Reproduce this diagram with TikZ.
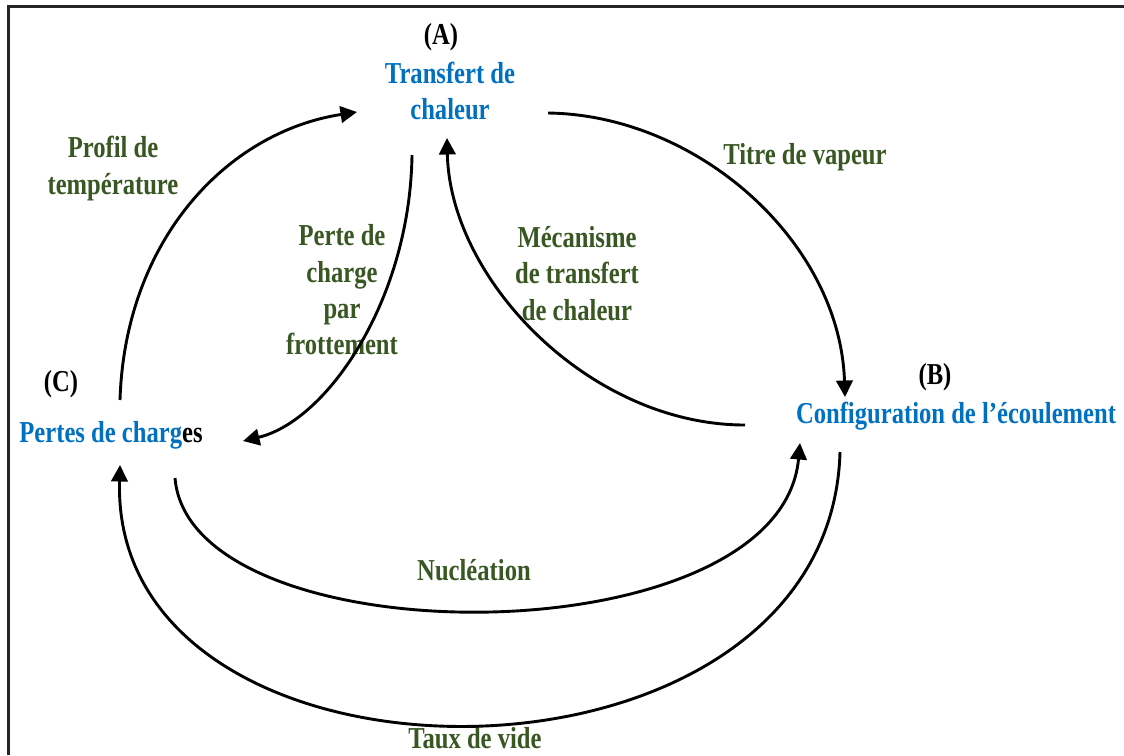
\documentclass[tikz,border=0pt]{standalone}
\usepackage{fontspec}
\setmainfont{Liberation Serif}[FakeStretch=0.81]
\usetikzlibrary{arrows.meta}
\definecolor{NodeBlue}{HTML}{0070C0}
\definecolor{LabelGreen}{HTML}{385723}

\begin{document}
\begin{tikzpicture}[x=0.02cm, y=-0.02cm,
    txt/.style={font=\bfseries\fontsize{17.3}{20.7}\selectfont, inner sep=0pt, align=center},
    pole/.style={txt, text=NodeBlue},
    lbl/.style={txt, text=LabelGreen},
    flow/.style={line width=0.058cm, -{Triangle[length=0.33cm, width=0.33cm]}}]
  \useasboundingbox (0,0) rectangle (1124,755);
  \draw[line width=0.06cm, black!85] (8.5,755) -- (8.5,6) -- (1124,6);
  % Les trois pôles
  \node[txt] (tagA) at (441,37) {(A)};
  \node[pole] (tA) at (450,91) {Transfert de\\chaleur};
  \node[txt] (tagB) at (935,377) {(B)};
  \node[pole] (tB) at (956,416) {Configuration de l’écoulement};
  \node[txt] (tagC) at (61,384) {(C)};
  \node[txt] (tC) at (111,435) {\textcolor{NodeBlue}{Pertes de charg}es};
  % Les liens
  \node[lbl] (lProfil) at (113,168.5) {Profil de\\température};
  \node[lbl] (lTitre) at (805,157) {Titre de vapeur};
  \node[lbl] (lFrott) at (342,290) {Perte de\\charge\\par\\frottement};
  \node[lbl] (lMeca) at (577,273.5) {Mécanisme\\de transfert\\de chaleur};
  \node[lbl] (lNucl) at (474,570) {Nucléation};
  \node[lbl] (lVide) at (475,738) {Taux de vide};
  \draw[flow] ([shift={(9,-35)}]tC.center) .. controls +(5,-160) and +(-130,20) .. ([shift={(-93,21)}]tA.center);
  \draw[flow] ([shift={(98,22)}]tA.center) .. controls +(150,2) and +(-5,-155) .. ([shift={(-111,-19)}]tB.center);
  \draw[flow] ([shift={(-38,64)}]tA.center) .. controls +(-2,145) and +(84,-20) .. ([shift={(132,6)}]tC.center);
  \draw[flow] ([shift={(-211,9)}]tB.center) .. controls +(-155,0) and +(3,142) .. ([shift={(-3,47)}]tA.center);
  \draw[flow] ([shift={(64,43)}]tC.center) .. controls +(15,182) and +(-20,217) .. ([shift={(-156,27)}]tB.center);
  \draw[flow] ([shift={(-116,36)}]tB.center) .. controls +(-10,361) and +(-10,348) .. ([shift={(9,30)}]tC.center);
\end{tikzpicture}
\end{document}
